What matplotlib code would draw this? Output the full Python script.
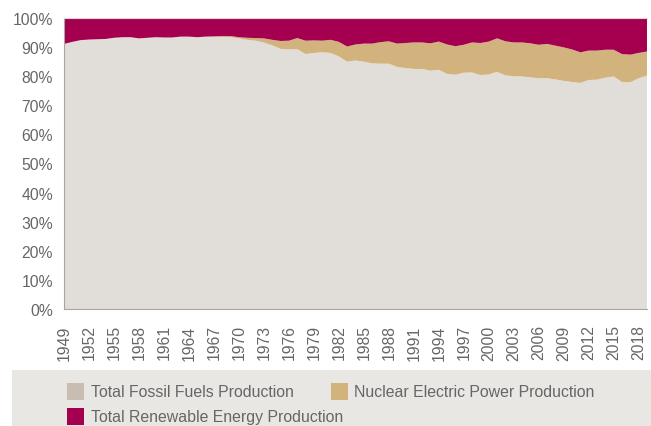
import numpy as np
import matplotlib
matplotlib.use('Agg')
import matplotlib.pyplot as plt
import matplotlib.patches as patches

plt.rcParams['font.family'] = ['Liberation Sans', 'DejaVu Sans']

# donnees (part en % de la production)
years = list(range(1949, 2020))
fossil = [91.1, 91.8, 92.4, 92.6, 92.7, 92.8, 93.2, 93.4, 93.4, 93.0,
          93.2, 93.4, 93.3, 93.3, 93.6, 93.6, 93.4, 93.6, 93.5, 93.5,
          93.4, 93.0, 92.5, 92.2, 91.6, 90.6, 89.4, 89.2, 89.3, 87.6,
          88.0, 88.2, 88.0, 86.8, 85.0, 85.4, 85.0, 84.4, 84.3, 84.3,
          83.2, 82.8, 82.5, 82.5, 81.9, 82.2, 80.8, 80.5, 81.2, 81.3,
          80.4, 80.6, 81.5, 80.3, 80.0, 79.9, 79.6, 79.3, 79.3, 78.9,
          78.4, 78.0, 77.7, 78.7, 78.8, 79.5, 79.9, 78.0, 77.9, 79.3,
          80.2]
nuclear = [0.0, 0.0, 0.0, 0.0, 0.0, 0.0, 0.0, 0.0, 0.0, 0.0,
           0.0, 0.0, 0.0, 0.0, 0.0, 0.0, 0.0, 0.0, 0.2, 0.3,
           0.4, 0.4, 0.7, 0.9, 1.4, 1.9, 2.7, 3.0, 3.8, 4.6,
           4.3, 4.0, 4.5, 5.0, 5.2, 5.5, 6.2, 6.8, 7.4, 7.7,
           8.0, 8.6, 9.1, 9.1, 9.4, 9.7, 10.1, 9.8, 9.6, 10.3,
           11.0, 11.3, 11.5, 11.7, 11.6, 11.7, 11.7, 11.5, 11.8, 11.6,
           11.5, 11.2, 10.5, 10.1, 10.0, 9.6, 9.2, 9.6, 9.5, 8.7,
           8.3]
renewable = [8.9, 8.2, 7.6, 7.4, 7.3, 7.2, 6.8, 6.6, 6.6, 7.0,
             6.8, 6.6, 6.7, 6.7, 6.4, 6.4, 6.6, 6.4, 6.3, 6.2,
             6.2, 6.6, 6.8, 6.9, 7.0, 7.5, 7.9, 7.8, 6.9, 7.8,
             7.7, 7.8, 7.5, 8.2, 9.8, 9.1, 8.8, 8.8, 8.3, 8.0,
             8.8, 8.6, 8.4, 8.4, 8.7, 8.1, 9.1, 9.7, 9.2, 8.4,
             8.6, 8.1, 7.0, 8.0, 8.4, 8.4, 8.7, 9.2, 8.9, 9.5,
             10.1, 10.8, 11.8, 11.2, 11.2, 10.9, 10.9, 12.4, 12.6, 12.0,
             11.5]
labels = ['Total Fossil Fuels Production', 'Nuclear Electric Power Production',
          'Total Renewable Energy Production']

area_colors = ['#e1ddd8', '#d3b37d', '#a50050']
legend_colors = ['#c9bdb2', '#d3b37d', '#a50050']
txt_color = '#666666'

fig = plt.figure(figsize=(6.51, 4.27), dpi=100)
ax = fig.add_axes([64 / 651, 1 - 310 / 427, (647 - 64) / 651, (310 - 19) / 427])

ax.stackplot(years, fossil, nuclear, renewable, colors=area_colors, linewidth=0)

ax.set_xlim(1949, 2019)
ax.set_ylim(0, 100)
ax.set_yticks(np.arange(0, 101, 10))
ax.set_yticklabels([f'{v}%' for v in range(0, 101, 10)])
ax.set_xticks(years[::3])
ax.set_xticklabels([str(y) for y in years[::3]], rotation=90)
ax.tick_params(axis='both', length=0, labelsize=11.3, colors=txt_color)
ax.tick_params(axis='y', pad=8)
ax.tick_params(axis='x', pad=11)

ax.spines['right'].set_visible(False)
ax.spines['top'].set_color('#d9d9d9')
ax.spines['left'].set_color('#a6a6a6')
ax.spines['bottom'].set_color('#a6a6a6')

# legende dessinee a la main dans un cadre gris
fig.patches.append(patches.Rectangle((12 / 651, 0), 639 / 651, 56 / 427,
                                     transform=fig.transFigure, facecolor='#e9e7e4',
                                     edgecolor='none', zorder=0))
pos = [(67, 91, 392.5), (331, 354, 392.5), (67, 91, 417.5)]
for (sx, tx, ty), lab, c in zip(pos, labels, legend_colors):
    fig.patches.append(patches.Rectangle((sx / 651, 1 - (ty + 8.5) / 427), 17 / 651, 17 / 427,
                                         transform=fig.transFigure, facecolor=c,
                                         edgecolor='none', zorder=1))
    fig.text(tx / 651, 1 - ty / 427, lab, fontsize=11.4, color=txt_color,
             ha='left', va='center')

fig.savefig('out.png', dpi=100)
